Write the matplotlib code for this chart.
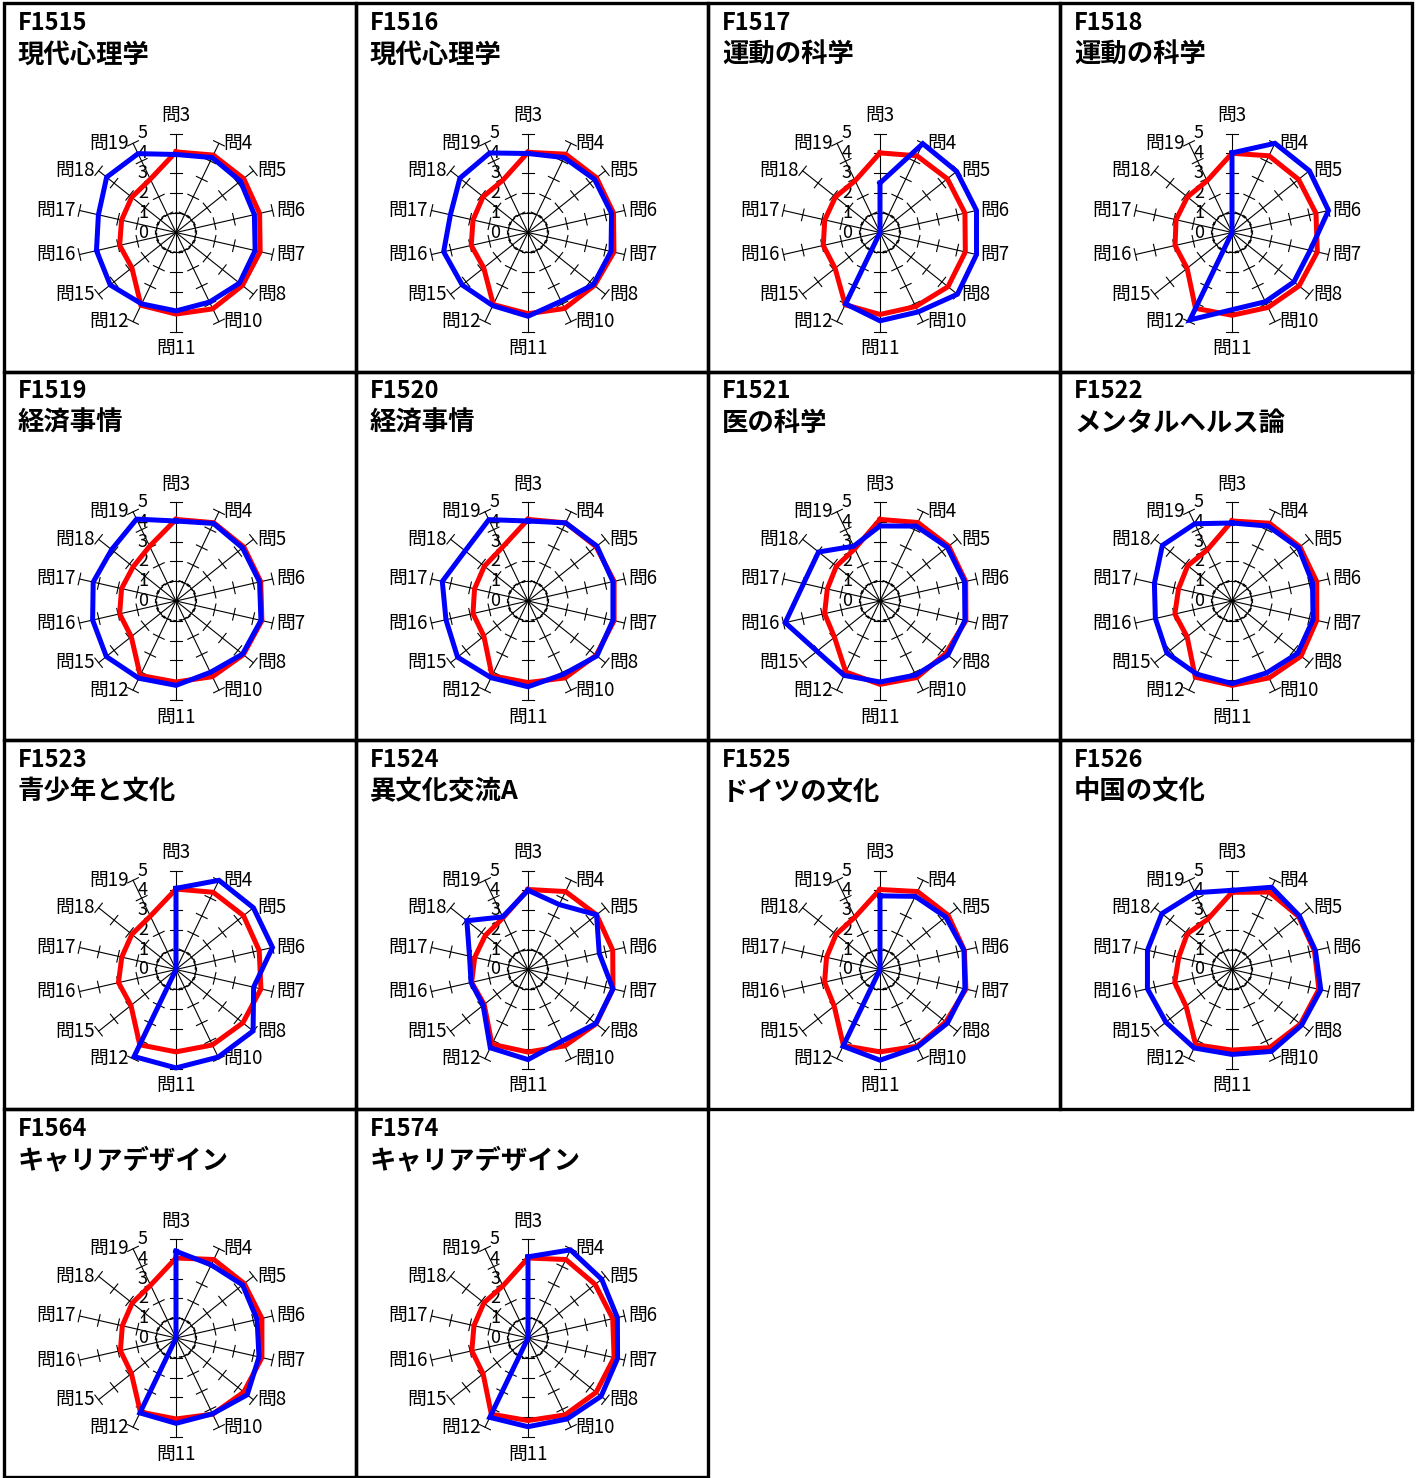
import numpy as np
import matplotlib.pyplot as plt
from matplotlib.patches import Rectangle

plt.rcParams['font.family'] = ['Noto Sans CJK JP', 'DejaVu Sans']

W, H = 1416, 1478

codes = ["F1515", "F1516", "F1517", "F1518", "F1519", "F1520", "F1521",
         "F1522", "F1523", "F1524", "F1525", "F1526", "F1564", "F1574"]
names = ["現代心理学", "現代心理学", "運動の科学", "運動の科学", "経済事情", "経済事情",
         "医の科学", "メンタルヘルス論", "青少年と文化", "異文化交流A", "ドイツの文化",
         "中国の文化", "キャリアデザイン", "キャリアデザイン"]
items = ["問3", "問4", "問5", "問6", "問7", "問8", "問10", "問11", "問12",
         "問15", "問16", "問17", "問18", "問19"]
scale = [0, 1, 2, 3, 4, 5]
ring = [1] * len(items)  # 点線の輪

# 赤: 全体, 青: 各科目
red = [
    [4.07, 4.34, 4.37, 4.33, 4.36, 4.29, 4.28, 4.12, 4.08, 2.85, 2.92, 2.82, 2.86, 2.99],
    [4.05, 4.39, 4.43, 4.43, 4.45, 4.29, 4.26, 4.10, 4.04, 2.86, 2.94, 2.85, 2.90, 2.93],
    [4.02, 4.30, 4.35, 4.40, 4.42, 4.39, 4.15, 4.14, 4.05, 2.90, 2.94, 2.86, 2.88, 2.90],
    [4.00, 4.30, 4.30, 4.35, 4.42, 4.33, 4.20, 4.18, 4.25, 2.90, 2.95, 2.90, 2.88, 2.90],
    [4.12, 4.39, 4.38, 4.39, 4.45, 4.35, 4.24, 4.09, 4.17, 2.89, 2.92, 2.82, 2.77, 3.07],
    [4.12, 4.38, 4.40, 4.46, 4.46, 4.40, 4.31, 4.12, 4.19, 2.85, 2.85, 2.77, 2.82, 3.00],
    [4.12, 4.40, 4.44, 4.44, 4.45, 4.25, 4.29, 4.21, 3.98, 2.94, 2.87, 2.73, 2.82, 2.93],
    [4.04, 4.36, 4.39, 4.39, 4.39, 4.46, 4.31, 4.26, 4.27, 2.90, 2.96, 2.77, 2.86, 2.87],
    [4.06, 4.33, 4.36, 4.31, 4.40, 4.32, 4.23, 4.16, 4.22, 2.91, 2.98, 2.81, 2.85, 2.99],
    [4.04, 4.37, 4.43, 4.39, 4.40, 4.40, 4.28, 4.17, 4.19, 2.83, 2.92, 2.76, 2.76, 2.90],
    [4.04, 4.37, 4.40, 4.37, 4.45, 4.25, 4.30, 4.16, 4.26, 2.96, 2.87, 2.77, 2.84, 2.93],
    [3.90, 4.34, 4.30, 4.27, 4.50, 4.42, 4.38, 4.07, 4.22, 2.97, 2.97, 2.76, 2.89, 2.82],
    [4.04, 4.40, 4.41, 4.45, 4.45, 4.38, 4.27, 4.09, 4.15, 2.88, 2.88, 2.78, 2.83, 2.96],
    [4.04, 4.40, 4.34, 4.39, 4.46, 4.40, 4.31, 4.17, 4.27, 2.90, 2.91, 2.80, 2.85, 2.92],
]
blue = [
    [3.94, 4.20, 4.16, 4.06, 4.10, 4.10, 3.90, 3.96, 4.00, 4.25, 4.12, 4.02, 4.48, 4.42],
    [3.99, 4.20, 4.30, 4.33, 4.30, 4.22, 3.85, 4.23, 4.10, 4.25, 4.37, 4.02, 4.40, 4.46],
    [2.50, 4.98, 4.95, 5.00, 5.00, 5.00, 4.45, 4.46, 4.00, 0, 0, 0, 0, 0],
    [4.02, 5.00, 5.00, 5.00, 4.05, 4.00, 3.88, 3.90, 4.90, 0, 0, 0, 0, 0],
    [4.04, 4.35, 4.30, 4.33, 4.40, 4.30, 4.00, 4.26, 4.33, 4.50, 4.32, 4.29, 4.16, 4.59],
    [4.04, 4.38, 4.45, 4.40, 4.40, 4.45, 4.11, 4.33, 4.30, 4.55, 4.25, 4.44, 4.06, 4.56],
    [3.79, 4.20, 4.35, 4.38, 4.40, 4.38, 4.15, 4.09, 4.17, 4.07, 4.91, 3.96, 3.97, 3.07],
    [3.94, 4.20, 4.30, 4.17, 4.20, 4.24, 4.03, 4.17, 4.10, 4.21, 3.97, 4.02, 4.50, 4.33],
    [4.10, 5.00, 5.00, 5.00, 4.02, 4.98, 4.91, 4.97, 4.88, 0, 0, 0, 0, 0],
    [4.00, 3.64, 4.43, 3.69, 4.40, 4.38, 4.00, 4.55, 4.39, 2.90, 2.95, 3.03, 3.95, 2.95],
    [3.72, 4.10, 4.25, 4.35, 4.40, 4.35, 4.35, 4.58, 4.30, 0, 0, 0, 0, 0],
    [4.00, 4.61, 4.35, 4.32, 4.60, 4.50, 4.59, 4.29, 4.40, 4.27, 4.38, 4.38, 4.53, 4.30],
    [4.38, 4.10, 4.30, 4.20, 4.30, 4.60, 4.25, 4.31, 4.20, 0, 0, 0, 0, 0],
    [4.10, 4.94, 4.76, 4.63, 4.64, 4.72, 4.54, 4.48, 4.45, 0, 0, 0, 0, 0],
]

PW, PH = 352, 368.5   # パネルの大きさ(px)
R = 99                 # レーダーの半径(px)
PT = 72 / 100          # px -> pt

fig = plt.figure(figsize=(W / 100, H / 100), dpi=100)
theta = np.linspace(0, 2 * np.pi, len(items), endpoint=False)
theta_c = np.append(theta, theta[0])


def closed(v):
    return np.append(v, v[0])


for i, code in enumerate(codes):
    row, col = divmod(i, 4)
    left = 4 + PW * col
    top = 3 + PH * row

    fig.add_artist(Rectangle((left / W, 1 - (top + PH) / H), PW / W, PH / H,
                             transform=fig.transFigure, fill=False,
                             lw=2.4, ec="black"))
    fig.text((left + 14) / W, 1 - (top + 20) / H, code,
             fontsize=17, fontweight="bold", va="center")
    fig.text((left + 14) / W, 1 - (top + 52) / H, names[i],
             fontsize=19, fontweight="bold", va="center")

    cx, cy = left + 172, top + 229.5
    ax = fig.add_axes([(cx - R) / W, 1 - (cy + R) / H, 2 * R / W, 2 * R / H],
                      projection="polar")
    ax.set_theta_zero_location("N")
    ax.set_theta_direction(-1)
    ax.set_ylim(0, 5)
    ax.set_axis_off()

    # 軸と目盛り
    for k, t in enumerate(theta):
        ax.plot([t, t], [0, 5], color="black", lw=0.8, clip_on=False, zorder=1)
        for v in scale[1:]:
            d = np.arctan(0.3 / v)
            rr = np.hypot(v, 0.3)
            ax.plot([t - d, t + d], [rr, rr], color="black", lw=0.8,
                    clip_on=False, zorder=1)
        s = np.sin(t)
        if abs(s) < 0.1:
            off = (0, 18 * PT) if np.cos(t) > 0 else (0, -17 * PT)
            ha = "center"
        elif s > 0:
            off, ha = (4 * PT, 0), "left"
        else:
            off, ha = (-4 * PT, 0), "right"
        ax.annotate(items[k], xy=(t, 5), xytext=off, textcoords="offset points",
                    ha=ha, va="center", fontsize=13.5, annotation_clip=False)

    for v in scale:
        ax.annotate(str(v), xy=(0, v), xytext=(-33 * PT, 0),
                    textcoords="offset points", ha="center", va="center",
                    fontsize=13, annotation_clip=False)

    ax.plot(theta_c, closed(ring), color="black", lw=0.8, ls=(0, (3, 2)),
            clip_on=False, zorder=2)
    ax.plot(theta_c, closed(red[i]), color="#ff0000", lw=3.6,
            solid_joinstyle="miter", clip_on=False, zorder=3)
    ax.plot(theta_c, closed(blue[i]), color="#0000ff", lw=3.6,
            solid_joinstyle="miter", clip_on=False, zorder=4)

plt.savefig("out.png", dpi=100)
